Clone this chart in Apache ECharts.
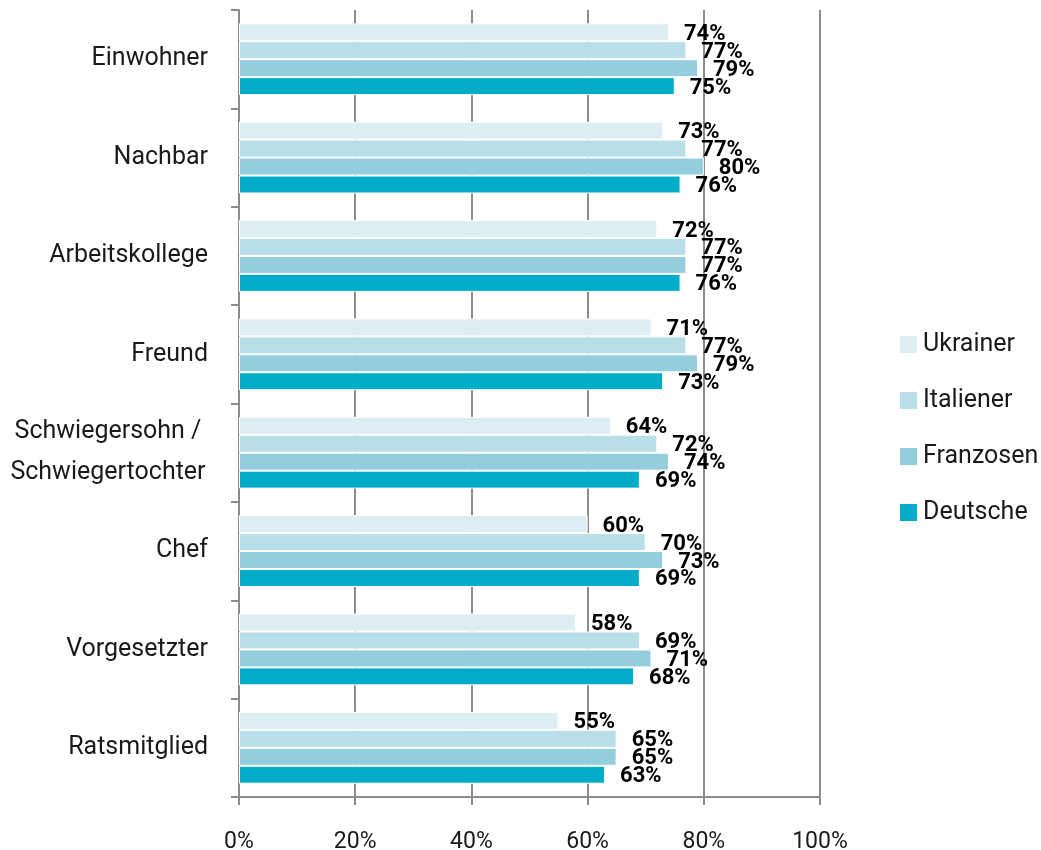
<!DOCTYPE html>
<html>
<head>
<meta charset="utf-8">
<script src="https://cdn.jsdelivr.net/npm/echarts@6/dist/echarts.min.js"></script>
<style>
  html, body { margin: 0; padding: 0; background: #fff; }
  #chart { width: 1041px; height: 850px; }
</style>
</head>
<body>
<div id="chart"></div>
<script>
// Daten
const categories = ['Einwohner', 'Nachbar', 'Arbeitskollege', 'Freund',
  'Schwiegersohn /\nSchwiegertochter', 'Chef', 'Vorgesetzter', 'Ratsmitglied']
const ukrainer  = [74, 73, 72, 71, 64, 60, 58, 55]
const italiener = [77, 77, 77, 77, 72, 70, 69, 65]
const franzosen = [79, 80, 77, 79, 74, 73, 71, 65]
const deutsche  = [75, 76, 76, 73, 69, 69, 68, 63]
const xTicks = [0, 20, 40, 60, 80, 100]

const font = 'Roboto, "DejaVu Sans", sans-serif'
const gridColor = '#8c8c8c'
const textColor = '#1a1a1a'

const mkSeries = (name, data, color) => ({
  name,
  type: 'bar',
  data,
  barGap: '0%',
  barCategoryGap: '27%',
  itemStyle: { color, borderColor: '#fff', borderWidth: 1 },
  label: {
    show: true,
    position: 'right',
    distance: 15,
    offset: [0, 2],
    formatter: p => p.value + '%',
    color: '#000',
    fontWeight: 'bold',
    fontSize: 22,
    fontFamily: font
  }
})

const chart = echarts.init(document.getElementById('chart'))
chart.setOption({
  animation: false,
  grid: { left: 239, right: 221, top: 10, bottom: 53, containLabel: false, outerBoundsMode: 'none' },
  legend: {
    orient: 'vertical',
    left: 893,
    top: 327,
    itemWidth: 19,
    itemHeight: 19,
    itemGap: 31,
    icon: 'rect',
    textStyle: { fontSize: 25, fontFamily: font, color: textColor, lineHeight: 19 },
    data: ['Ukrainer', 'Italiener', 'Franzosen', 'Deutsche']
  },
  xAxis: {
    type: 'value',
    min: 0,
    max: 100,
    interval: 20,
    axisLine: { show: true, lineStyle: { color: gridColor, width: 2 } },
    axisTick: { show: true, length: 8, lineStyle: { color: gridColor, width: 2 } },
    splitLine: { show: true, lineStyle: { color: gridColor, width: 2 } },
    axisLabel: {
      margin: 34,
      fontSize: 23,
      fontFamily: font,
      color: textColor,
      formatter: v => (xTicks.includes(v) ? v + '%' : '')
    }
  },
  yAxis: {
    type: 'category',
    inverse: true,
    data: categories,
    axisLine: { show: true, lineStyle: { color: gridColor, width: 2 } },
    axisTick: { show: true, length: 8, lineStyle: { color: gridColor, width: 2 } },
    axisLabel: {
      margin: 31,
      fontSize: 25,
      fontFamily: font,
      color: textColor,
      lineHeight: 41,
      formatter: v => v.includes('\n')
        ? v.split('\n').map(s => '{c|' + s + '}').join('\n')
        : v,
      rich: {
        c: { width: 200, align: 'center', fontSize: 25, fontFamily: font, color: textColor, lineHeight: 41 }
      }
    }
  },
  series: [
    mkSeries('Ukrainer', ukrainer, '#dceef4'),
    mkSeries('Italiener', italiener, '#b8dee8'),
    mkSeries('Franzosen', franzosen, '#94cdde'),
    mkSeries('Deutsche', deutsche, '#00acc8')
  ]
})
</script>
</body>
</html>
